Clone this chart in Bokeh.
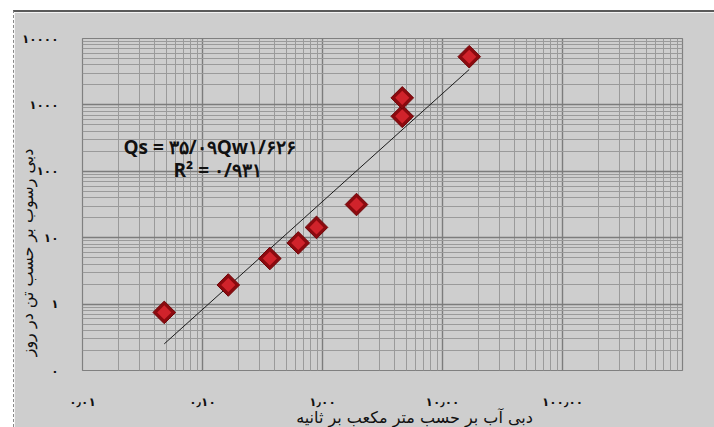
import math

from bokeh.embed import file_html
from bokeh.models import ColumnDataSource, FixedTicker, Label
from bokeh.plotting import figure
from bokeh.resources import INLINE

# Measured discharge (m3/s) and sediment load (tonnes/day)
water_discharge = [0.048, 0.164, 0.364, 0.628, 0.891, 1.92, 4.62, 4.62, 16.7]
sediment_load = [0.75, 1.94, 4.86, 8.34, 14.3, 31.6, 673, 1276, 5320]

# Power-law rating curve  Qs = a * Qw^b
coef_a = 35.09
exp_b = 1.626
r_squared_text = "R² = ۰/۹۳۱"
equation_text = "Qs = ۳۵/۰۹Qw۱/۶۲۶"

x_ticks = [0.01, 0.1, 1, 10, 100]
x_tick_labels = ["۰٫۰۱", "۰٫۱۰", "۱٫۰۰", "۱۰٫۰۰", "۱۰۰٫۰۰"]
y_ticks = [0.1, 1, 10, 100, 1000, 10000]
y_tick_labels = ["۰", "۱", "۱۰", "۱۰۰", "۱۰۰۰", "۱۰۰۰۰"]

x_title = "دبی آب بر حسب متر مکعب بر ثانیه"
y_title = "دبی رسوب بر حسب تن در روز"

BG = "#cecece"
FA = "DejaVu Sans"
EM = "\u2003"  # em space, used to nudge the axis titles off-centre


def minor_decades(lo_exp, hi_exp):
    out = []
    for e in range(lo_exp, hi_exp):
        for m in range(2, 10):
            out.append(m * 10 ** e)
    return out


p = figure(
    width=701, height=417,
    x_axis_type="log", y_axis_type="log",
    x_range=(0.01, 1000), y_range=(0.1, 10000),
    output_backend="svg", toolbar_location=None,
    min_border_left=68, min_border_right=33,
    min_border_top=26, min_border_bottom=56,
    background_fill_color=BG, border_fill_color=BG,
    outline_line_color="#808080", outline_line_width=1.2,
)
p.margin = (10, 0, 0, 13)
p.styles = {"border-top": "2px solid #5a5a5a", "border-left": "1px dashed #8a8a8a"}

x_ticker = FixedTicker(ticks=x_ticks + [1000], minor_ticks=minor_decades(-2, 3))
y_ticker = FixedTicker(ticks=y_ticks, minor_ticks=minor_decades(-1, 4))

p.xaxis.ticker = x_ticker
p.yaxis.ticker = y_ticker
p.xgrid.ticker = x_ticker
p.ygrid.ticker = y_ticker

for g in (p.xgrid, p.ygrid):
    g.grid_line_color = "#7c7c7c"
    g.grid_line_width = 1.4
    g.minor_grid_line_color = "#9a9a9a"
    g.minor_grid_line_width = 1.0

p.xaxis.major_label_overrides = {t: s for t, s in zip(x_ticks, x_tick_labels)}
p.xaxis.major_label_overrides[1000] = ""
p.yaxis.major_label_overrides = {t: s for t, s in zip(y_ticks, y_tick_labels)}

for ax in (p.xaxis, p.yaxis):
    ax.axis_line_color = None
    ax.major_tick_line_color = None
    ax.minor_tick_line_color = None
    ax.major_label_text_font = FA
    ax.major_label_text_font_size = "12px"
    ax.major_label_text_font_style = "bold"
    ax.major_label_text_color = "#111111"
    ax.axis_label_text_font = FA
    ax.axis_label_text_font_size = "16px"
    ax.axis_label_text_font_style = "normal"
    ax.axis_label_text_color = "#111111"
p.yaxis.major_label_standoff = 18
p.xaxis.major_label_standoff = 18

p.xaxis.axis_label = EM * 4 + x_title
p.xaxis.axis_label_standoff = -4
p.yaxis.axis_label = y_title + EM * 6
p.yaxis.axis_label_standoff = -18

# trend line from the fitted equation over the observed discharge range
x_lo, x_hi = min(water_discharge), max(water_discharge)
trend_x = [x_lo, x_hi]
trend_y = [coef_a * v ** exp_b for v in trend_x]
p.line(trend_x, trend_y, line_color="#1a1a1a", line_width=1)

src = ColumnDataSource(data=dict(x=water_discharge, y=sediment_load))
# beveled diamond markers: dark base with a brighter inner face
p.scatter("x", "y", source=src, marker="square", size=16, angle=math.pi / 4,
          fill_color="#8c0a0f", line_color="#6e0508", line_width=1)
p.scatter("x", "y", source=src, marker="square", size=10, angle=math.pi / 4,
          fill_color="#d0232b", line_color=None)

p.add_layout(Label(x=41, y=224, x_units="screen", y_units="screen",
                   text=equation_text, text_font="Open Sans", text_font_style="bold",
                   text_font_size="19px", text_color="#111111",
                   text_align="left", text_baseline="middle"))
p.add_layout(Label(x=91, y=201, x_units="screen", y_units="screen",
                   text=r_squared_text, text_font="Open Sans", text_font_style="bold",
                   text_font_size="19px", text_color="#111111",
                   text_align="left", text_baseline="middle"))

open("out.html", "w").write(file_html(p, INLINE))
